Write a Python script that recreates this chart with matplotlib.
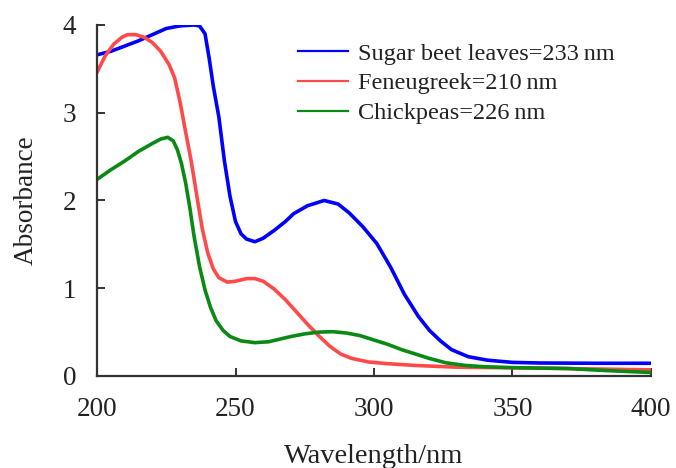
import numpy as np
import matplotlib
matplotlib.use('Agg')
from matplotlib import pyplot as plt

plt.rcParams['font.family'] = ['Liberation Serif', 'DejaVu Serif']

# Sugar beet leaves
wl_beet = [200, 205, 210, 215, 220, 225, 230, 235, 237, 239, 240.5, 242, 244, 246, 248, 250,
           252, 254, 257, 260, 264, 268, 271, 276, 282, 287, 291, 296, 301, 306, 311, 316,
           320, 324, 328, 334, 341, 350, 360, 380, 400]
abs_beet = [3.66, 3.70, 3.76, 3.82, 3.89, 3.96, 3.99, 4.0, 3.99, 3.90, 3.62, 3.30, 2.95, 2.45,
            2.05, 1.76, 1.62, 1.56, 1.53, 1.57, 1.66, 1.76, 1.85, 1.94, 2.0, 1.96, 1.86, 1.70,
            1.51, 1.24, 0.93, 0.68, 0.52, 0.40, 0.30, 0.22, 0.18, 0.155, 0.148, 0.145, 0.145]

# Feneugreek
wl_fen = [200, 203, 206, 209, 211, 214, 217, 220, 223, 226, 228, 230, 232, 234, 236, 238,
          240, 242, 244, 247, 250, 254, 257, 260, 264, 268, 272, 276, 280, 284, 288, 292,
          298, 305, 315, 330, 345, 360, 380, 400]
abs_fen = [3.46, 3.65, 3.78, 3.86, 3.89, 3.89, 3.86, 3.80, 3.70, 3.55, 3.40, 3.12, 2.78, 2.45,
           2.06, 1.68, 1.40, 1.22, 1.12, 1.07, 1.08, 1.11, 1.11, 1.08, 0.99, 0.87, 0.73, 0.59,
           0.46, 0.34, 0.25, 0.20, 0.16, 0.14, 0.12, 0.10, 0.095, 0.09, 0.08, 0.07]

# Chickpeas
wl_chick = [200, 205, 210, 215, 220, 223, 225.5, 227.5, 229, 230.5, 232, 233.5, 235, 237, 239,
            241, 243, 245.5, 248, 252, 257, 262, 266, 270, 275, 280, 285, 290, 295, 300, 305,
            310, 315, 320, 326, 333, 340, 350, 370, 385, 400]
abs_chick = [2.24, 2.35, 2.45, 2.56, 2.65, 2.70, 2.72, 2.68, 2.58, 2.42, 2.20, 1.92, 1.60, 1.25,
             0.98, 0.78, 0.63, 0.52, 0.45, 0.40, 0.38, 0.39, 0.42, 0.45, 0.48, 0.50, 0.505, 0.49,
             0.46, 0.41, 0.36, 0.30, 0.25, 0.20, 0.15, 0.12, 0.105, 0.095, 0.085, 0.06, 0.04]

labels = ['Sugar beet leaves=233\u2009nm', 'Feneugreek=210\u2009nm', 'Chickpeas=226\u2009nm']
colors = ['#0000ff', '#ff4a4a', '#0a8a14']

fig = plt.figure(figsize=(6.76, 4.68), dpi=100)
ax = fig.add_axes([0.1435, 0.1966, 0.8195, 0.75])

ax.plot(wl_beet, abs_beet, color=colors[0], lw=2.6, label=labels[0], solid_joinstyle='round')
ax.plot(wl_fen, abs_fen, color=colors[1], lw=2.6, label=labels[1], solid_joinstyle='round')
ax.plot(wl_chick, abs_chick, color=colors[2], lw=2.6, label=labels[2], solid_joinstyle='round')

ax.set_xlim(200, 400)
ax.set_ylim(0, 4)
ax.set_xticks([200, 250, 300, 350, 400])
ax.set_yticks([0, 1, 2, 3, 4])

for s in ['top', 'right']:
    ax.spines[s].set_visible(False)
for s in ['left', 'bottom']:
    ax.spines[s].set_color('#333333')
    ax.spines[s].set_linewidth(1.6)

ax.tick_params(direction='in', length=6, width=1.4, color='#333333', labelsize=19.5,
               labelcolor='#222222')
ax.tick_params(axis='y', pad=15)
ax.tick_params(axis='x', pad=15)

ax.set_xlabel('Wavelength/nm', fontsize=20.5, color='#222222', labelpad=16)
ax.set_ylabel('Absorbance', fontsize=19.5, color='#222222', labelpad=17)

leg = ax.legend(loc='upper left', bbox_to_anchor=(0.323, 1.012), frameon=False, fontsize=17.5,
                handlelength=2.06, handletextpad=0.42, labelspacing=0.32)
for line in leg.get_lines():
    line.set_linewidth(1.6)
for t in leg.get_texts():
    t.set_color('#222222')

fig.savefig('out.png', dpi=100)
